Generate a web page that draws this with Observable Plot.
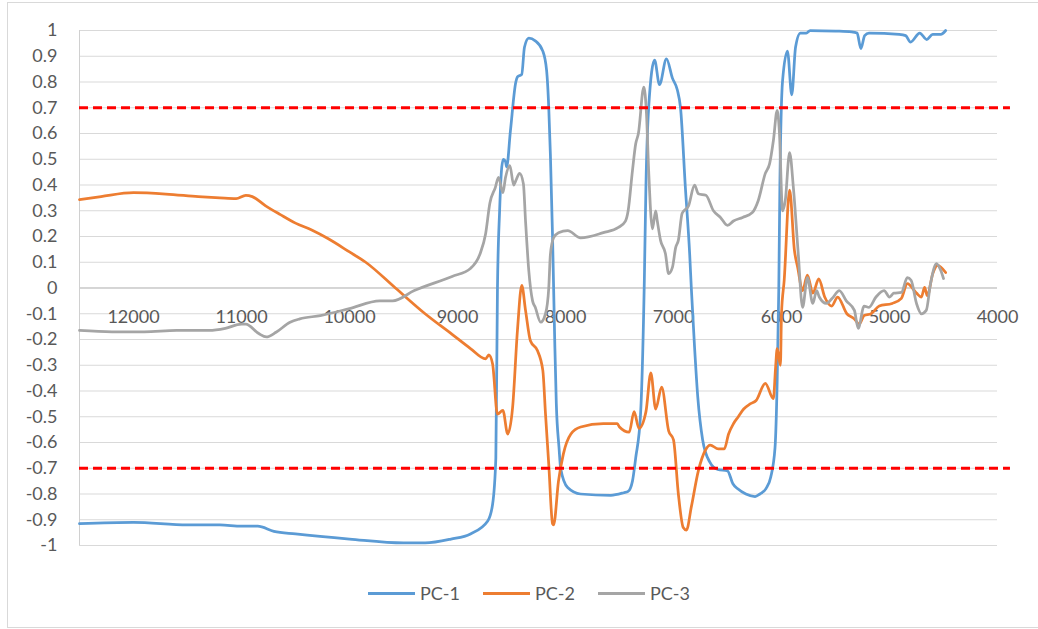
<!DOCTYPE html>
<html>
<head>
<meta charset="utf-8">
<script src="https://cdn.jsdelivr.net/npm/d3@7"></script>
<script src="https://cdn.jsdelivr.net/npm/@observablehq/plot@0.6"></script>
<style>
  html, body { margin: 0; padding: 0; background: #ffffff; }
  body { width: 1038px; height: 629px; position: relative; overflow: hidden; font-family: Lato, "Open Sans", sans-serif; }
  #chart { position: absolute; left: 0; top: 0; }
  #frame { position: absolute; left: 7px; top: 2px; width: 1040px; height: 624px; border: 1px solid #d9d9d9; pointer-events: none; z-index: 2; }
  #legend { position: absolute; left: 368px; top: 581px; display: flex; }
  .item { width: 115px; display: flex; align-items: center; height: 24px; }
  .swatch { width: 47px; height: 3px; margin-right: 5px; }
  .label { font-size: 18px; color: #595959; }
</style>
</head>
<body>
<div id="chart"></div>
<div id="frame"></div>
<div id="legend"></div>
<script>
// Loadings of the first three principal components versus wavenumber (cm-1)
const pc1 = [
  [12500, -0.915], [12000, -0.91], [11500, -0.92], [11200, -0.92], [11000, -0.925],
  [10850, -0.925], [10700, -0.945], [10500, -0.955], [10000, -0.975], [9500, -0.99],
  [9300, -0.99], [9060, -0.975], [8880, -0.955], [8720, -0.905], [8675, -0.84],
  [8645, -0.66], [8630, 0.0], [8610, 0.3], [8590, 0.47], [8575, 0.5], [8555, 0.49],
  [8545, 0.47], [8510, 0.61], [8460, 0.8], [8445, 0.82], [8405, 0.83], [8380, 0.935],
  [8340, 0.97], [8280, 0.96], [8210, 0.92], [8175, 0.845], [8155, 0.7], [8140, 0.52],
  [8120, 0.2], [8100, -0.2], [8085, -0.45], [8060, -0.62], [8045, -0.7], [7980, -0.775],
  [7860, -0.8], [7580, -0.805], [7460, -0.795], [7420, -0.79], [7380, -0.75],
  [7350, -0.66], [7305, -0.49], [7270, 0.03], [7255, 0.4], [7230, 0.7], [7175, 0.885],
  [7130, 0.79], [7065, 0.89], [7010, 0.815], [6965, 0.77], [6935, 0.7], [6890, 0.39],
  [6850, 0.13], [6835, 0.0], [6805, -0.23], [6775, -0.425], [6730, -0.59], [6665, -0.675],
  [6590, -0.705], [6500, -0.71], [6450, -0.76], [6405, -0.78], [6330, -0.8], [6245, -0.81],
  [6200, -0.8], [6145, -0.78], [6100, -0.735], [6060, -0.62], [6040, -0.36], [6025, 0.0],
  [6015, 0.4], [5990, 0.805], [5945, 0.92], [5905, 0.75], [5870, 0.935], [5825, 0.99],
  [5770, 0.99], [5735, 1.0], [5500, 0.998], [5350, 0.995], [5300, 0.99], [5265, 0.93],
  [5230, 0.98], [5190, 0.99], [4910, 0.985], [4850, 0.98], [4805, 0.955], [4720, 0.99],
  [4655, 0.965], [4600, 0.985], [4525, 0.985], [4480, 1.0]
];

const pc2 = [
  [12500, 0.343], [12300, 0.355], [12000, 0.37], [11700, 0.365], [11400, 0.355],
  [11200, 0.35], [11050, 0.347], [10960, 0.36], [10900, 0.355], [10780, 0.32],
  [10640, 0.285], [10500, 0.252], [10350, 0.225], [10200, 0.192], [10000, 0.14],
  [9850, 0.1], [9575, 0.0],
  [9300, -0.1], [9050, -0.18], [8880, -0.235], [8740, -0.275], [8710, -0.26],
  [8675, -0.295], [8630, -0.49], [8580, -0.475], [8535, -0.567], [8490, -0.465],
  [8445, -0.165], [8405, 0.01], [8370, -0.087], [8325, -0.205], [8260, -0.243],
  [8210, -0.32], [8185, -0.49], [8155, -0.685], [8120, -0.915], [8110, -0.92],
  [8065, -0.75], [8020, -0.645], [7950, -0.567], [7860, -0.54], [7650, -0.527],
  [7520, -0.527], [7500, -0.54], [7410, -0.56], [7365, -0.48], [7320, -0.545],
  [7255, -0.48], [7210, -0.33], [7165, -0.47], [7110, -0.385], [7045, -0.555],
  [7000, -0.59], [6955, -0.8], [6910, -0.93], [6880, -0.94], [6835, -0.85], [6770, -0.71],
  [6705, -0.63], [6660, -0.61], [6585, -0.625], [6530, -0.625], [6490, -0.567],
  [6445, -0.527], [6400, -0.5], [6350, -0.47], [6290, -0.45], [6235, -0.437],
  [6150, -0.37], [6075, -0.43], [6055, -0.31], [6040, -0.235], [6010, -0.3],
  [6000, -0.1], [5975, 0.03], [5925, 0.38], [5880, 0.145], [5850, 0.08], [5805, -0.01],
  [5760, 0.05], [5710, -0.02], [5655, 0.035], [5600, -0.035], [5535, -0.07],
  [5480, -0.035], [5395, -0.1], [5325, -0.12], [5280, -0.14], [5235, -0.107],
  [5170, -0.1], [5095, -0.07], [4975, -0.06], [4890, -0.04], [4835, 0.017], [4750, -0.02],
  [4705, -0.035], [4675, 0.002], [4650, -0.03], [4600, 0.055], [4555, 0.088], [4480, 0.06]
];

const pc3 = [
  [12500, -0.165], [12200, -0.17], [11900, -0.17], [11600, -0.165], [11300, -0.165],
  [11150, -0.157], [11000, -0.14], [10960, -0.14], [10840, -0.177], [10770, -0.19],
  [10680, -0.172], [10550, -0.133], [10460, -0.12], [10270, -0.107], [10000, -0.08],
  [9720, -0.05], [9600, -0.05], [9400, -0.01], [9050, 0.045], [8880, 0.076], [8790, 0.134],
  [8740, 0.21], [8700, 0.33], [8650, 0.39], [8620, 0.43], [8580, 0.37], [8555, 0.43],
  [8515, 0.475], [8480, 0.4], [8460, 0.417], [8425, 0.445], [8390, 0.405], [8370, 0.26],
  [8340, 0.068], [8305, -0.05], [8280, -0.075], [8230, -0.133], [8185, -0.1],
  [8155, 0.0], [8140, 0.13], [8110, 0.195], [8065, 0.215], [7980, 0.223], [7860, 0.195],
  [7650, 0.215], [7510, 0.235], [7445, 0.26], [7420, 0.3], [7380, 0.456], [7350, 0.56],
  [7325, 0.6], [7275, 0.78], [7250, 0.675], [7230, 0.456], [7195, 0.23], [7165, 0.3],
  [7150, 0.26], [7120, 0.185], [7075, 0.134], [7045, 0.056], [7010, 0.08], [6980, 0.157],
  [6955, 0.185], [6920, 0.29], [6860, 0.32], [6805, 0.4], [6770, 0.366], [6700, 0.36],
  [6630, 0.3], [6565, 0.274], [6500, 0.243], [6445, 0.26], [6360, 0.274], [6270, 0.293],
  [6215, 0.34], [6150, 0.445], [6110, 0.483], [6075, 0.573], [6040, 0.69], [6020, 0.61],
  [5990, 0.3], [5965, 0.34], [5925, 0.526], [5890, 0.39], [5845, 0.134], [5805, -0.075],
  [5760, 0.04], [5710, -0.06], [5675, -0.01], [5650, -0.035], [5585, -0.06],
  [5530, -0.04], [5465, -0.01], [5400, -0.05], [5325, -0.087], [5290, -0.157],
  [5235, -0.07], [5190, -0.075], [5125, -0.035], [5050, -0.01], [5000, -0.035],
  [4960, -0.02], [4890, -0.017], [4835, 0.04], [4800, 0.03], [4750, -0.06], [4705, -0.1],
  [4660, -0.087], [4620, 0.017], [4565, 0.095], [4525, 0.068], [4500, 0.037]
];

const seriesNames = ["PC-1", "PC-2", "PC-3"];
const seriesColors = ["#5B9BD5", "#ED7D31", "#A5A5A5"];
const yTicks = [1, 0.9, 0.8, 0.7, 0.6, 0.5, 0.4, 0.3, 0.2, 0.1, 0,
  -0.1, -0.2, -0.3, -0.4, -0.5, -0.6, -0.7, -0.8, -0.9, -1];
const xTicks = [12000, 11000, 10000, 9000, 8000, 7000, 6000, 5000, 4000];
const thresholds = [0.7, -0.7];
const xDomain = [12500, 4000];
const thresholdSpan = [12500, 3880];

const rows = [pc1, pc2, pc3].flatMap((s, i) =>
  s.map(([wn, v]) => ({ wn, value: v, series: seriesNames[i] })));

const chart = Plot.plot({
  width: 1038,
  height: 560,
  marginLeft: 79,
  marginRight: 41,
  marginTop: 30,
  marginBottom: 15,
  style: { fontFamily: "Lato, 'Open Sans', sans-serif", fontSize: "18px", color: "#595959", background: "transparent" },
  x: { domain: xDomain, axis: null },
  y: { domain: [-1, 1], axis: null },
  color: { domain: seriesNames, range: seriesColors },
  marks: [
    Plot.ruleY(yTicks, { stroke: "#d9d9d9", strokeWidth: 1 }),
    Plot.ruleY([0], { stroke: "#bfbfbf", strokeWidth: 1 }),
    Plot.ruleX([xDomain[0]], { stroke: "#d0d0d0", strokeWidth: 1 }),
    Plot.axisY(yTicks, {
      tickSize: 0, tickPadding: 22, fontSize: 18,
      tickFormat: d => String(d), label: null
    }),
    Plot.text(xTicks, { x: d => d, y: 0, dy: 29, text: d => String(d), fill: "#595959", fontSize: 18 }),
    Plot.line(rows, {
      x: "wn", y: "value", z: "series", stroke: "series",
      strokeWidth: 2.75, curve: "monotone-x", strokeLinejoin: "round"
    }),
    Plot.ruleY(thresholds, {
      x1: thresholdSpan[0], x2: thresholdSpan[1],
      stroke: "#ff0000", strokeWidth: 3, strokeDasharray: "9,5"
    })
  ]
});
document.getElementById("chart").appendChild(chart);

// legend below the plot
const legend = document.getElementById("legend");
seriesNames.forEach((name, i) => {
  const item = document.createElement("div");
  item.className = "item";
  const sw = document.createElement("div");
  sw.className = "swatch";
  sw.style.background = seriesColors[i];
  const lab = document.createElement("span");
  lab.className = "label";
  lab.textContent = name;
  item.appendChild(sw);
  item.appendChild(lab);
  legend.appendChild(item);
});
</script>
</body>
</html>
